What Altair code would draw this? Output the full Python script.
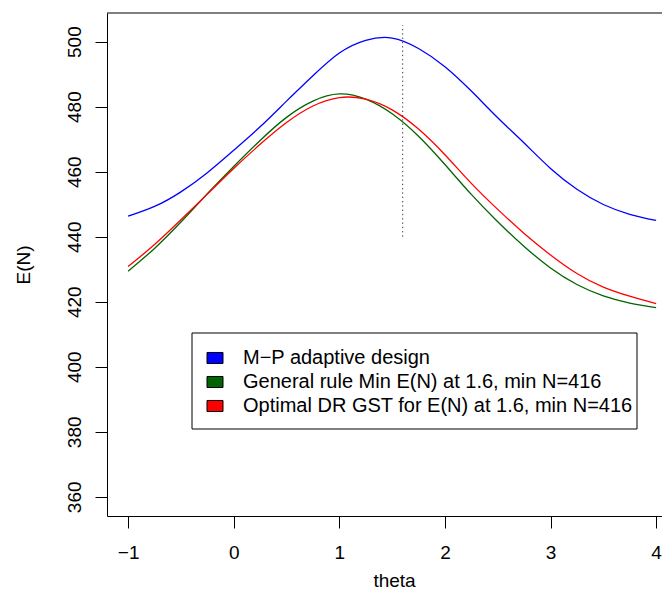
import altair as alt
import pandas as pd

# values
theta = [-1.0, -0.75, -0.5, -0.25, 0.0, 0.25, 0.5, 0.75, 1.0, 1.25, 1.5,
         1.75, 2.0, 2.25, 2.5, 2.75, 3.0, 3.25, 3.5, 3.75, 4.0]

mp_adaptive = [446.3, 449.3, 453.8, 459.7, 466.6, 473.8, 481.7, 489.5, 496.5, 500.4, 501.1,
               497.9, 492.3, 484.8, 476.6, 468.8, 461.0, 454.6, 449.9, 446.9, 445.0]
general_rule = [429.4, 436.4, 444.5, 453.2, 461.6, 469.6, 476.7, 481.7, 483.9, 482.3, 477.8,
                470.9, 462.2, 453.0, 444.6, 437.0, 430.4, 425.3, 421.8, 419.6, 418.2]
optimal_dr = [430.8, 437.6, 445.2, 453.1, 461.0, 468.4, 475.1, 480.2, 482.8, 482.3, 479.0,
              473.1, 465.2, 456.4, 448.4, 441.0, 434.4, 428.7, 424.5, 421.7, 419.4]

labels = ["M−P adaptive design",
          "General rule Min E(N) at 1.6, min N=416",
          "Optimal DR GST for E(N) at 1.6, min N=416"]
colors = ["#0000FF", "#006400", "#FF0000"]

x_ticks = [-1, 0, 1, 2, 3, 4]
y_ticks = [360, 380, 400, 420, 440, 460, 480, 500]

# dotted reference line at theta = 1.6
vline_theta = [1.6]
vline_lo = [440]
vline_hi = [505]

FONT = "Liberation Sans, Arial, Helvetica, sans-serif"
W, H = 555, 503
PX_PER_UNIT = 105.6

df = pd.concat([
    pd.DataFrame({"theta": theta, "value": vals, "series": lab})
    for lab, vals in zip(labels, [mp_adaptive, general_rule, optimal_dr])
])
vline = pd.DataFrame({"theta": vline_theta, "value": vline_lo, "value2": vline_hi})
leg = pd.DataFrame({"series": labels, "color": colors})

x = alt.X("theta:Q",
          scale=alt.Scale(domain=[-1.2, -1.2 + W / PX_PER_UNIT], nice=False, zero=False),
          axis=alt.Axis(values=x_ticks, format="d", title="theta",
                        labelPadding=15.5, labelFlush=False, labelOverlap=False,
                        titleX=287, titleY=70, titleAlign="center",
                        titleBaseline="alphabetic"))
y = alt.Y("value:Q",
          scale=alt.Scale(domain=[354.1, 508.8], nice=False, zero=False),
          axis=alt.Axis(values=y_ticks, format="d", title="E(N)",
                        labelAngle=270, labelAlign="center", labelBaseline="alphabetic",
                        labelPadding=15, labelOverlap=False,
                        titleAngle=270, titleX=-78, titleY=251.5,
                        titleAlign="center", titleBaseline="alphabetic"))

lines = alt.Chart(df).mark_line(strokeWidth=1.3, interpolate="natural").encode(
    x=x, y=y,
    stroke=alt.Stroke("series:N", scale=alt.Scale(domain=labels, range=colors), legend=None),
    order="theta:Q",
)

ref = alt.Chart(vline).mark_rule(color="#333", strokeWidth=1, strokeDash=[1.3, 3]).encode(
    x=x, y=y, y2="value2:Q"
)

top_border = alt.Chart(pd.DataFrame({"a": [0]})).mark_rule(color="black", strokeWidth=1).encode(
    x=alt.value(0), x2=alt.value(W), y=alt.value(0)
)

# R-style legend box with filled rectangles
ly = alt.Y("series:N", axis=None,
           scale=alt.Scale(type="point", domain=labels, range=[345, 393], padding=0))

leg_box = alt.Chart(pd.DataFrame({"a": [0]})).mark_rect(
    fill="white", stroke="black", strokeWidth=1
).encode(x=alt.value(85), x2=alt.value(530), y=alt.value(320), y2=alt.value(416))

leg_sym = alt.Chart(leg).mark_point(
    shape="M-1,-0.69H1V0.69H-1Z", size=256, filled=True, opacity=1,
    stroke="black", strokeWidth=1
).encode(x=alt.value(108), y=ly, fill=alt.Fill("color:N", scale=None))

leg_txt = alt.Chart(leg).mark_text(
    align="left", baseline="middle", font=FONT, fontSize=20, color="black"
).encode(x=alt.value(136), y=ly, text="series:N")

chart = alt.layer(
    alt.layer(lines, ref, top_border),
    alt.layer(leg_box, leg_sym, leg_txt),
).resolve_scale(y="independent").properties(
    width=W, height=H,
    padding={"left": 99, "top": 5, "right": 0, "bottom": 76},
    autosize=alt.AutoSizeParams(type="none"),
    background="white",
).configure_view(
    stroke=None
).configure_axis(
    grid=False, domainColor="black", tickColor="black", tickSize=12,
    labelFont=FONT, labelFontSize=19, labelColor="black",
    titleFont=FONT, titleFontSize=19, titleFontWeight="normal", titleColor="black",
)

chart.save("out.html", embed_options={"renderer": "svg", "actions": False})
